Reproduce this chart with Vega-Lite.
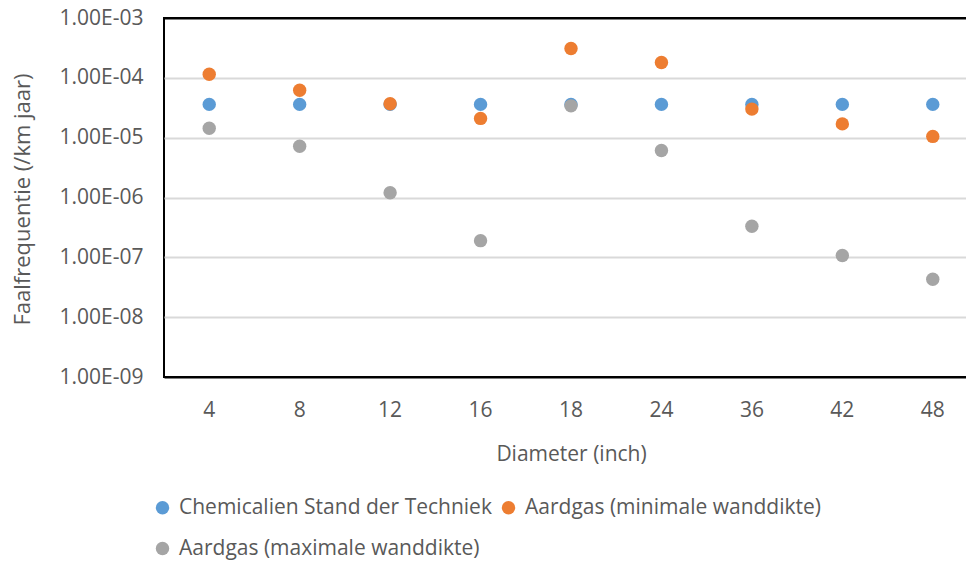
{
  "$schema": "https://vega.github.io/schema/vega-lite/v6.json",
  "width": 814,
  "height": 359,
  "autosize": {"type": "none"},
  "padding": {"left": 164, "top": 18, "right": 0, "bottom": 185},
  "background": "white",
  "config": {
    "font": "Open Sans",
    "view": {"stroke": "#000000", "strokeWidth": 2},
    "axis": {"labelFont": "Open Sans", "titleFont": "Open Sans", "labelColor": "#595959", "titleColor": "#595959", "labelFontSize": 21, "titleFontSize": 21, "titleFontWeight": "normal", "domain": false, "ticks": false},
    "legend": {"labelFont": "Open Sans", "labelFontSize": 21, "labelColor": "#595959", "labelLimit": 0}
  },
  "data": {
    "values": [
      {"d": "4", "s": "Chemicalien Stand der Techniek", "v": 3.6e-5},
      {"d": "8", "s": "Chemicalien Stand der Techniek", "v": 3.6e-5},
      {"d": "12", "s": "Chemicalien Stand der Techniek", "v": 3.6e-5},
      {"d": "16", "s": "Chemicalien Stand der Techniek", "v": 3.6e-5},
      {"d": "18", "s": "Chemicalien Stand der Techniek", "v": 3.6e-5},
      {"d": "24", "s": "Chemicalien Stand der Techniek", "v": 3.6e-5},
      {"d": "36", "s": "Chemicalien Stand der Techniek", "v": 3.6e-5},
      {"d": "42", "s": "Chemicalien Stand der Techniek", "v": 3.6e-5},
      {"d": "48", "s": "Chemicalien Stand der Techniek", "v": 3.6e-5},
      {"d": "4", "s": "Aardgas (minimale wanddikte)", "v": 1.15e-4},
      {"d": "8", "s": "Aardgas (minimale wanddikte)", "v": 6.2e-5},
      {"d": "12", "s": "Aardgas (minimale wanddikte)", "v": 3.7e-5},
      {"d": "16", "s": "Aardgas (minimale wanddikte)", "v": 2.1e-5},
      {"d": "18", "s": "Aardgas (minimale wanddikte)", "v": 3.1e-4},
      {"d": "24", "s": "Aardgas (minimale wanddikte)", "v": 1.8e-4},
      {"d": "36", "s": "Aardgas (minimale wanddikte)", "v": 3.0e-5},
      {"d": "42", "s": "Aardgas (minimale wanddikte)", "v": 1.7e-5},
      {"d": "48", "s": "Aardgas (minimale wanddikte)", "v": 1.05e-5},
      {"d": "4", "s": "Aardgas (maximale wanddikte)", "v": 1.44e-5},
      {"d": "8", "s": "Aardgas (maximale wanddikte)", "v": 7.2e-6},
      {"d": "12", "s": "Aardgas (maximale wanddikte)", "v": 1.2e-6},
      {"d": "16", "s": "Aardgas (maximale wanddikte)", "v": 1.9e-7},
      {"d": "18", "s": "Aardgas (maximale wanddikte)", "v": 3.4e-5},
      {"d": "24", "s": "Aardgas (maximale wanddikte)", "v": 6.1e-6},
      {"d": "36", "s": "Aardgas (maximale wanddikte)", "v": 3.3e-7},
      {"d": "42", "s": "Aardgas (maximale wanddikte)", "v": 1.07e-7},
      {"d": "48", "s": "Aardgas (maximale wanddikte)", "v": 4.3e-8}
    ]
  },
  "mark": {"type": "circle", "size": 180, "opacity": 1},
  "encoding": {
    "x": {
      "field": "d", "type": "ordinal", "sort": null,
      "scale": {"type": "band", "paddingInner": 0, "paddingOuter": 0},
      "axis": {"title": "Diameter (inch)", "labelAngle": 0, "labelPadding": 22, "titlePadding": 23, "grid": false}
    },
    "y": {
      "field": "v", "type": "quantitative",
      "scale": {"type": "log", "domain": [1e-9, 1e-3], "nice": false},
      "axis": {
        "title": "Faalfrequentie (/km jaar)",
        "values": [1e-9, 1e-8, 1e-7, 1e-6, 1e-5, 1e-4, 1e-3],
        "labelExpr": "'1.00E-' + (abs(round(log(datum.value)/LN10)) < 10 ? '0' : '') + abs(round(log(datum.value)/LN10))",
        "labelPadding": 21,
        "grid": true,
        "gridColor": {"condition": {"test": "datum.value <= 1.5e-9 || datum.value >= 0.9e-3", "value": "#000000"}, "value": "#d9d9d9"},
        "gridWidth": 2,
        "titleX": -142, "titleY": 181, "titleAlign": "center", "titleBaseline": "middle", "titleAngle": -90, "titleFontSize": 22
      }
    },
    "color": {
      "field": "s", "type": "nominal",
      "sort": ["Chemicalien Stand der Techniek", "Aardgas (minimale wanddikte)", "Aardgas (maximale wanddikte)"],
      "scale": {"domain": ["Chemicalien Stand der Techniek", "Aardgas (minimale wanddikte)", "Aardgas (maximale wanddikte)"], "range": ["#5B9BD5", "#ED7D31", "#A5A5A5"]},
      "legend": {"title": null, "orient": "none", "legendX": -12, "legendY": 479, "columns": 2, "direction": "horizontal", "symbolType": "circle", "symbolSize": 180, "symbolOpacity": 1, "labelOffset": 6, "columnPadding": 6, "rowPadding": 19, "labelLimit": 0}
    }
  }
}
